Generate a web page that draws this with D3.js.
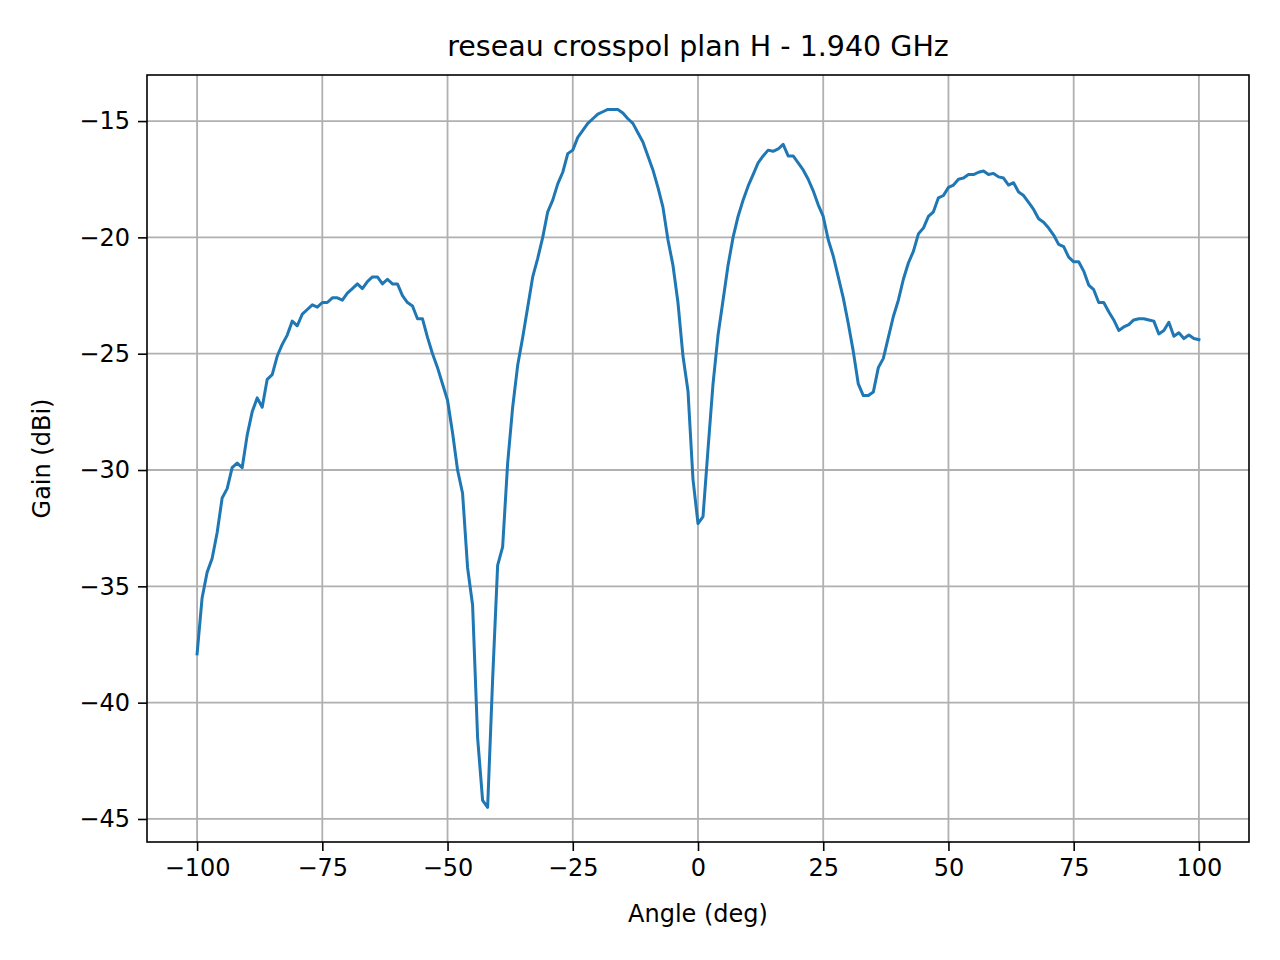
<!DOCTYPE html>
<html><head><meta charset="utf-8">
<script src="https://cdn.jsdelivr.net/npm/d3@7"></script>
<style>body{margin:0;background:#fff}text{font-family:"DejaVu Sans",sans-serif;fill:#000}</style>
</head><body><svg id="c" width="1280" height="960"></svg>
<script>
const title = "reseau crosspol plan H - 1.940 GHz";
const xLabel = "Angle (deg)";
const yLabel = "Gain (dBi)";
const xTicks = [-100,-75,-50,-25,0,25,50,75,100];
const yTicks = [-45,-40,-35,-30,-25,-20,-15];
const angleStart = -100;
const gain = [
-37.9,-35.5,-34.4,-33.8,-32.7,-31.2,-30.8,-29.9,-29.7,-29.9,
-28.5,-27.5,-26.9,-27.3,-26.1,-25.9,-25.1,-24.6,-24.2,-23.6,
-23.8,-23.3,-23.1,-22.9,-23.0,-22.8,-22.8,-22.6,-22.6,-22.7,
-22.4,-22.2,-22.0,-22.2,-21.9,-21.7,-21.7,-22.0,-21.8,-22.0,
-22.0,-22.5,-22.8,-22.95,-23.5,-23.5,-24.3,-25.0,-25.6,-26.3,
-27.0,-28.4,-30.0,-31.0,-34.2,-35.8,-41.5,-44.2,-44.5,-39.0,
-34.1,-33.3,-29.7,-27.3,-25.5,-24.3,-23.0,-21.7,-20.9,-20.0,
-18.9,-18.4,-17.7,-17.2,-16.4,-16.25,-15.7,-15.4,-15.1,-14.9,
-14.7,-14.6,-14.5,-14.5,-14.5,-14.65,-14.9,-15.1,-15.5,-15.9,
-16.5,-17.1,-17.85,-18.7,-20.1,-21.2,-22.8,-25.1,-26.6,-30.4,
-32.3,-32.0,-29.1,-26.3,-24.2,-22.7,-21.2,-20.0,-19.1,-18.4,
-17.8,-17.3,-16.8,-16.5,-16.25,-16.3,-16.2,-16.0,-16.5,-16.5,
-16.8,-17.1,-17.5,-18.0,-18.6,-19.1,-20.1,-20.8,-21.7,-22.6,
-23.7,-24.9,-26.3,-26.8,-26.8,-26.65,-25.6,-25.2,-24.3,-23.4,
-22.7,-21.8,-21.1,-20.6,-19.85,-19.6,-19.1,-18.9,-18.3,-18.2,
-17.85,-17.75,-17.5,-17.45,-17.3,-17.3,-17.2,-17.15,-17.3,-17.25,
-17.4,-17.45,-17.75,-17.65,-18.05,-18.2,-18.5,-18.8,-19.2,-19.35,
-19.6,-19.9,-20.3,-20.4,-20.85,-21.05,-21.05,-21.45,-22.05,-22.25,
-22.8,-22.8,-23.2,-23.55,-24.0,-23.85,-23.75,-23.55,-23.5,-23.5,
-23.55,-23.6,-24.15,-24.0,-23.65,-24.25,-24.1,-24.35,-24.2,-24.35,
-24.4];
const data = gain.map((g,i)=>({a:angleStart+i,g}));

const L=147,T=75,R=1249,B=842;
const svg=d3.select("#c");
const x=d3.scaleLinear().domain([-110,110]).range([L,R]);
const y=d3.scaleLinear().domain([-45.99,-13.02]).range([B,T]);

const grid=svg.append("g").attr("stroke","#b0b0b0").attr("stroke-width",1.8);
xTicks.forEach(t=>grid.append("line").attr("x1",x(t)).attr("x2",x(t)).attr("y1",T).attr("y2",B));
yTicks.forEach(t=>grid.append("line").attr("y1",y(t)).attr("y2",y(t)).attr("x1",L).attr("x2",R));

const fmt=d=>String(d).replace("-","\u2212");
const xa=svg.append("g").attr("transform",`translate(0,${B})`).call(d3.axisBottom(x).tickValues(xTicks).tickFormat(fmt).tickSize(9).tickPadding(8));
const ya=svg.append("g").attr("transform",`translate(${L},0)`).call(d3.axisLeft(y).tickValues(yTicks).tickFormat(fmt).tickSize(9).tickPadding(8));
[xa,ya].forEach(a=>{a.select(".domain").remove();a.selectAll("line").attr("stroke","#000").attr("stroke-width",1.6);a.selectAll("text").style("font-size","24px").attr("font-family","DejaVu Sans");});

svg.append("path").datum(data).attr("fill","none").attr("stroke","#1f77b4").attr("stroke-width",3)
 .attr("stroke-linejoin","round").attr("stroke-linecap","square")
 .attr("d",d3.line().x(d=>x(d.a)).y(d=>y(d.g)));

svg.append("rect").attr("x",L).attr("y",T).attr("width",R-L).attr("height",B-T).attr("fill","none").attr("stroke","#000").attr("stroke-width",1.6);

svg.append("text").attr("x",(L+R)/2).attr("y",56).attr("text-anchor","middle").style("font-size","28.5px").text(title);
svg.append("text").attr("x",(L+R)/2).attr("y",922).attr("text-anchor","middle").style("font-size","24px").text(xLabel);
svg.append("text").attr("transform",`translate(50,${(T+B)/2}) rotate(-90)`).attr("text-anchor","middle").style("font-size","24px").text(yLabel);
</script></body></html>
